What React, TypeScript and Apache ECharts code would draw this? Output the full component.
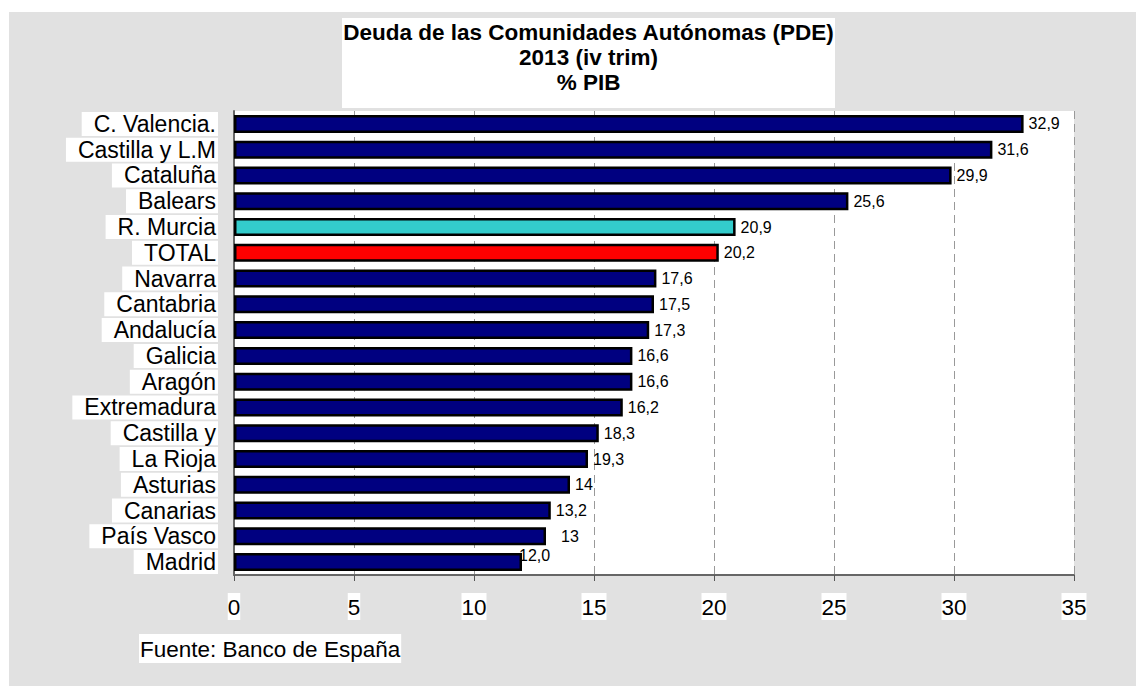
import React, { useEffect, useRef } from "react";
import * as echarts from "echarts";

const categories = [
  "C. Valencia.", "Castilla y L.M", "Cataluña", "Balears", "R. Murcia", "TOTAL",
  "Navarra", "Cantabria", "Andalucía", "Galicia", "Aragón", "Extremadura",
  "Castilla y", "La Rioja", "Asturias", "Canarias", "País Vasco", "Madrid",
];
const barValues = [
  32.9, 31.6, 29.9, 25.6, 20.9, 20.2, 17.6, 17.5, 17.3, 16.6, 16.6, 16.2,
  15.2, 14.75, 14.0, 13.2, 13.0, 12.0,
];
const valueLabels = [
  "32,9", "31,6", "29,9", "25,6", "20,9", "20,2", "17,6", "17,5", "17,3", "16,6", "16,6", "16,2",
  "18,3", "19,3", "14", "13,2", "13", "12,0",
];
const xTicks = [0, 5, 10, 15, 20, 25, 30, 35];
const titleLines = ["Deuda de las Comunidades Autónomas (PDE)", "2013 (iv trim)", "% PIB"];
const sourceText = "Fuente: Banco de España";

const NAVY = "#000080";
const colorFor = (name: string) =>
  name === "R. Murcia" ? "#33CCCC" : name === "TOTAL" ? "#FF0000" : NAVY;

const labelOffsets: Record<string, number[]> = {
  "País Vasco": [10, 0],
  Madrid: [-8, -7],
};

const FONT = "Arial, 'Liberation Sans', sans-serif";

export default function App() {
  const ref = useRef<HTMLDivElement>(null);
  useEffect(() => {
    if (!ref.current) return;
    const chart = echarts.init(ref.current, null, { renderer: "svg" });
    chart.setOption({
      animation: false,
      backgroundColor: "#ffffff",
      textStyle: { fontFamily: FONT },
      graphic: [
        {
          type: "rect",
          z: -10,
          silent: true,
          shape: { x: 9, y: 12, width: 1127, height: 674 },
          style: { fill: "#e1e1e1" },
        },
        {
          type: "rect",
          z: -5,
          silent: true,
          shape: { x: 342, y: 18, width: 493, height: 90 },
          style: { fill: "#ffffff" },
        },
        {
          type: "text",
          silent: true,
          x: 588.5,
          y: 20,
          style: {
            text: titleLines.join("\n"),
            fontFamily: FONT,
            fontSize: 22.5,
            fontWeight: "bold",
            lineHeight: 25,
            fill: "#000",
            align: "center",
            verticalAlign: "top",
          },
        },
        {
          type: "text",
          silent: true,
          x: 139,
          y: 634,
          style: {
            text: sourceText,
            fontFamily: FONT,
            fontSize: 22.5,
            lineHeight: 24,
            fill: "#000",
            backgroundColor: "#ffffff",
            padding: [3, 1, 2, 1],
            align: "left",
            verticalAlign: "top",
          },
        },
      ],
      grid: { left: 234, right: 62, top: 111, bottom: 111, backgroundColor: "#fff", show: true, borderWidth: 0 },
      xAxis: {
        type: "value",
        min: xTicks[0],
        max: xTicks[xTicks.length - 1],
        interval: 5,
        axisLine: { show: true, lineStyle: { color: "#666", width: 2 } },
        axisTick: { show: true, length: 6, lineStyle: { color: "#555", width: 1 } },
        axisLabel: {
          margin: 18,
          fontSize: 22.5,
          fontFamily: FONT,
          color: "#000",
          backgroundColor: "#fff",
          padding: [3, 0, 2, 0],
          lineHeight: 22,
        },
        splitLine: { show: true, lineStyle: { color: "#999", type: [8, 5], width: 1 } },
      },
      yAxis: {
        type: "category",
        data: categories,
        inverse: true,
        axisLine: { show: true, lineStyle: { color: "#666", width: 2 } },
        axisTick: { show: false },
        axisLabel: {
          interval: 0,
          margin: 16,
          fontSize: 23,
          fontFamily: FONT,
          color: "#000",
          backgroundColor: "#fff",
          padding: [1, 2, 0, 12],
          lineHeight: 23,
        },
      },
      series: [
        {
          type: "bar",
          barWidth: 18,
          data: barValues.map((v, i) => ({
            value: v,
            itemStyle: { color: colorFor(categories[i]), borderColor: "#000", borderWidth: 2.5 },
            label: labelOffsets[categories[i]] ? { offset: labelOffsets[categories[i]] } : undefined,
          })),
          label: {
            show: true,
            position: "right",
            distance: 5,
            fontSize: 16,
            fontFamily: FONT,
            color: "#000",
            formatter: (p: any) => valueLabels[p.dataIndex],
          },
        },
      ],
    });
    return () => chart.dispose();
  }, []);
  return (
    <div
      ref={ref}
      style={{ position: "absolute", left: 0, top: 0, width: 1136, height: 686 }}
    />
  );
}
